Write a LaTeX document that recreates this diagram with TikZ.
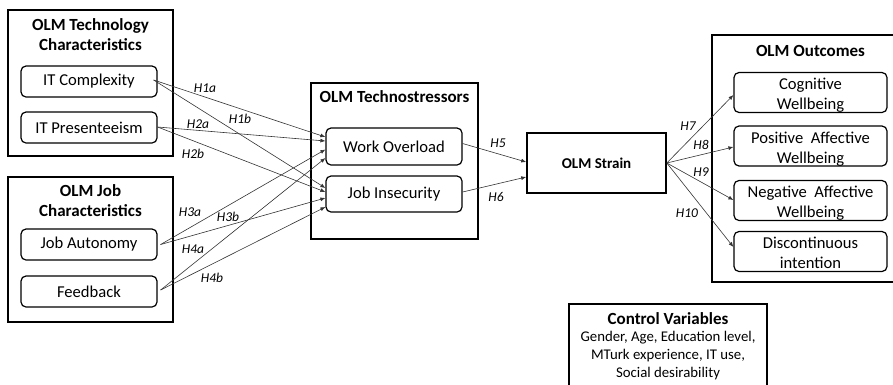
\documentclass[tikz,border=0pt]{standalone}
\usepackage{fontspec}
\setmainfont{Carlito}
\usetikzlibrary{arrows.meta}
\newcommand{\lowtext}[1]{\raisebox{-3pt}[\height][\depth]{\begin{tabular}{@{}c@{}}#1\end{tabular}}}
\begin{document}
\begin{tikzpicture}[x=1pt,y=-1pt,
  outer/.style={draw, line width=1.6pt, inner sep=0pt},
  inbox/.style={draw, line width=1.2pt, rounded corners=5pt, minimum width=136pt, align=center, font=\fontsize{16.6}{20}\selectfont, inner sep=0pt},
  ttl/.style={font=\fontsize{17}{20}\selectfont\bfseries, align=center},
  hyp/.style={font=\fontsize{13.5}{14}\selectfont\itshape, inner sep=1pt},
  arr/.style={-{Latex[length=5pt,width=4pt]}, line width=0.6pt, draw=black!80}
]
\useasboundingbox (0,0) rectangle (893,384);
% outer boxes
\node[outer, minimum width=165pt, minimum height=146pt] (techbox) at (90.5,83) {};
\node[outer, minimum width=165pt, minimum height=145pt] (jobbox) at (90.5,249.5) {};
\node[outer, minimum width=167pt, minimum height=156pt] (strbox) at (394.5,161) {};
\node[outer, minimum width=193pt, minimum height=247pt] (outbox) at (808.5,158.5) {};
\node[outer, minimum width=198pt, minimum height=96pt] (ctrlbox) at (668,352) {};
% titles
\node[ttl] (techttl) at (90.5,35) {OLM Technology\\Characteristics};
\node[ttl] (jobttl) at (90.5,201) {OLM Job\\Characteristics};
\node[ttl] (strttl) at (394.5,97) {OLM Technostressors};
\node[ttl] (outttl) at (810.5,51) {OLM Outcomes};
% inner boxes
\node[inbox, minimum height=31pt] (itc) at (89,81.5) {IT Complexity};
\node[inbox, minimum height=31pt] (itp) at (89,127.5) {IT Presenteeism};
\node[inbox, minimum height=31pt] (ja) at (89,244.5) {Job Autonomy};
\node[inbox, minimum height=31pt] (fb) at (89,291.5) {Feedback};
\node[inbox, minimum height=37pt] (wo) at (394,146.5) {Work Overload};
\node[inbox, minimum height=36pt] (ji) at (394,194) {Job Insecurity};
\node[draw, line width=1.6pt, minimum width=139pt, minimum height=60pt, font=\fontsize{15}{17}\selectfont\bfseries] (strain) at (596.5,163) {OLM Strain};
\node[inbox, minimum width=153pt, minimum height=39pt] (cog) at (810.5,92.5) {\lowtext{Cognitive\\Wellbeing}};
\node[inbox, minimum width=153pt, minimum height=38pt] (pos) at (810.5,146) {\lowtext{Positive~ Affective\\Wellbeing}};
\node[inbox, minimum width=153pt, minimum height=39pt] (neg) at (810.5,200.5) {\lowtext{Negative~ Affective\\Wellbeing}};
\node[inbox, minimum width=153pt, minimum height=39pt] (disc) at (810.5,251.5) {\lowtext{Discontinuous\\intention}};
% control text
\node[font=\fontsize{17}{18}\selectfont\bfseries] (ctrlttl) at (668,319) {Control Variables};
\node[font=\fontsize{14.8}{18}\selectfont, align=center, anchor=north] (ctrltxt) at (668,328) {Gender, Age, Education level,\\MTurk experience, IT use,\\Social desirability};
% coordinates for sources
\coordinate (sitc) at ([xshift=-4pt,yshift=1.5pt]itc.east);
\coordinate (sitp) at ([yshift=0.5pt]itp.east);
\coordinate (sja) at ([xshift=3pt]ja.east);
\coordinate (sfb) at ([xshift=3pt,yshift=1.5pt]fb.east);
% hypotheses arrows
\draw[arr] (sitc) -- ([yshift=9.5pt]wo.west);
\draw[arr] (sitc) -- ([yshift=6pt]ji.west);
\draw[arr] (sitp) -- ([yshift=5.5pt]wo.west);
\draw[arr] (sitp) -- ([yshift=2pt]ji.west);
\draw[arr] (sja) -- ([yshift=-3pt]wo.west);
\draw[arr] (sja) -- ([yshift=-4pt]ji.west);
\draw[arr] (sfb) -- ([yshift=-11.5pt]wo.west);
\draw[arr] (sfb) -- ([yshift=-13pt]ji.west);
\draw[arr] ([yshift=3pt]wo.east) -- ([yshift=1pt]strain.west);
\draw[arr] ([yshift=2pt]ji.east) -- ([yshift=-14pt]strain.west);
\coordinate (sst) at (strain.east);
\draw[arr] (sst) -- ([yshift=-2.5pt]cog.west);
\draw[arr] (sst) -- ([yshift=-1pt]pos.west);
\draw[arr] (sst) -- ([yshift=0.5pt]neg.west);
\draw[arr] (sst) -- ([yshift=4.5pt]disc.west);
% labels
\node[hyp] (h1a) at (205,88) {H1a};
\node[hyp] (h1b) at (240,119) {H1b};
\node[hyp] (h2a) at (198,124) {H2a};
\node[hyp] (h2b) at (193,154) {H2b};
\node[hyp] (h3a) at (190,212) {H3a};
\node[hyp] (h3b) at (228,217) {H3b};
\node[hyp] (h4a) at (193,249) {H4a};
\node[hyp] (h4b) at (212,278) {H4b};
\node[hyp] (h5) at (498,143) {H5};
\node[hyp] (h6) at (496,197) {H6};
\node[hyp] (h7) at (688,126) {H7};
\node[hyp] (h8) at (701,145) {H8};
\node[hyp] (h9) at (701,172) {H9};
\node[hyp] (h10) at (687,213) {H10};
\end{tikzpicture}
\end{document}
